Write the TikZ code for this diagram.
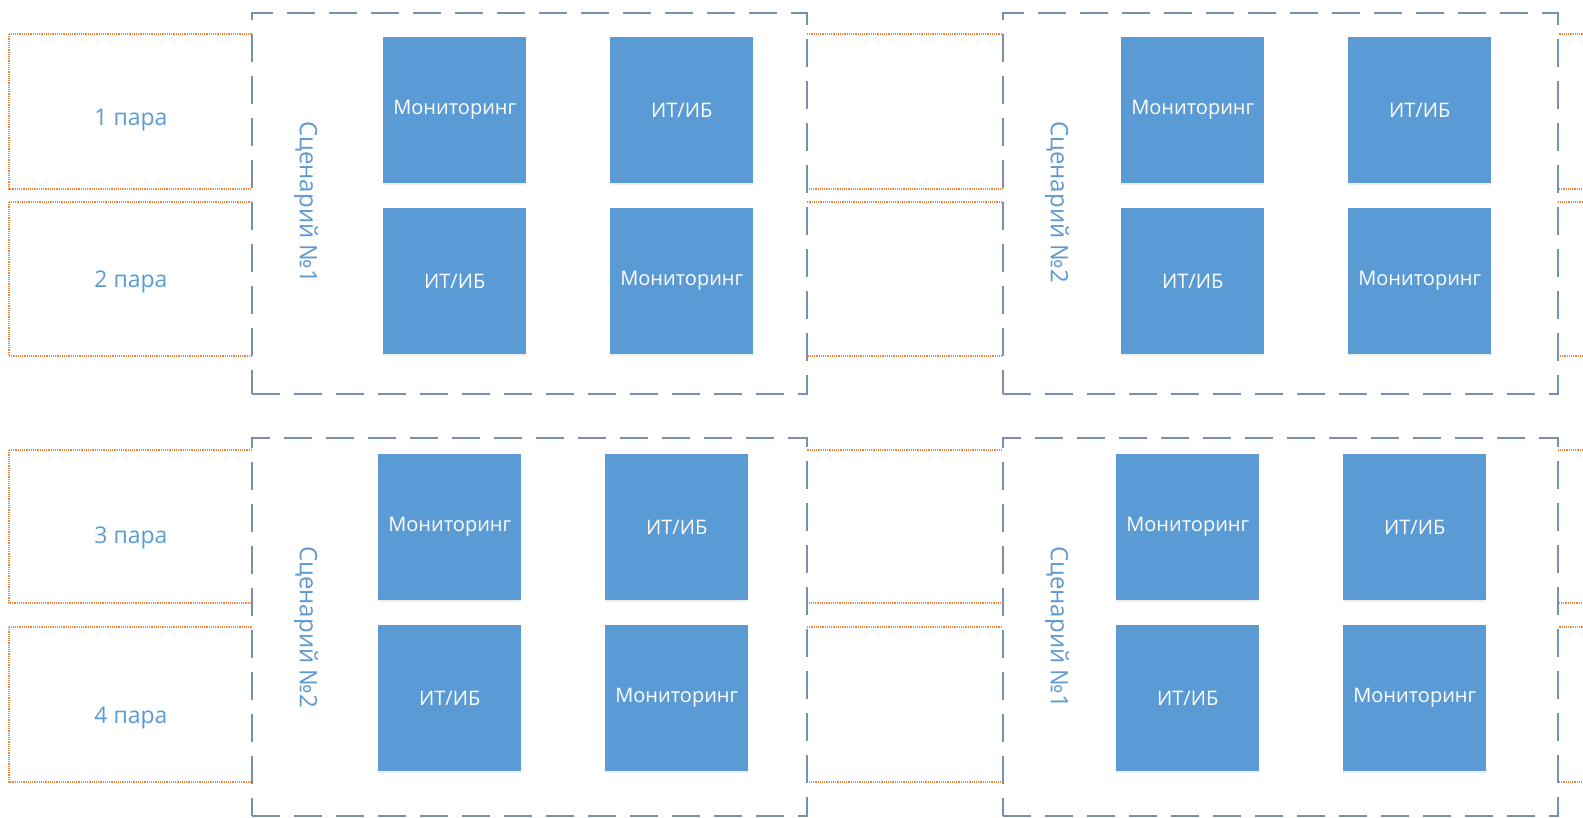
\documentclass[tikz,border=0pt]{standalone}
\usepackage{fontspec}
\setmainfont{Open Sans}
\usetikzlibrary{shadows}
\definecolor{blok}{HTML}{5B9BD5}
\definecolor{ramka}{HTML}{7890AE}
\definecolor{orang}{HTML}{EE8642}

\tikzset{
  rol/.style={fill=blok, text=white, inner sep=0pt, anchor=north west,
    minimum width=143pt, minimum height=146pt,
    font=\fontsize{20}{23}\selectfont,
    drop shadow={shadow xshift=0pt, shadow yshift=-2pt, opacity=0.12}},
  scen/.style={draw=ramka, fill=white, line width=2pt, dash pattern=on 28pt off 14pt,
    inner sep=0pt, anchor=north west, minimum width=555pt},
  scentext/.style={text=blok!85!ramka, rotate=-90, font=\fontsize{24}{27}\selectfont},
  paratext/.style={text=blok, font=\fontsize{23}{26}\selectfont},
  parabox/.style={draw=orang, line width=1.2pt, densely dotted}
}

\begin{document}
\begin{tikzpicture}[x=1pt,y=-1pt]
 \useasboundingbox (0,0) rectangle (1583,817);

 % Пары
 \draw[parabox] (9,34)  rectangle (1600,189);
 \draw[parabox] (9,202) rectangle (1600,356);
 \draw[parabox] (9,450) rectangle (1600,603);
 \draw[parabox] (9,627) rectangle (1600,782);

 \node[paratext] (para1) at (131,120) {1 пара};
 \node[paratext] (para2) at (131,282) {2 пара};
 \node[paratext] (para3) at (131,538) {3 пара};
 \node[paratext] (para4) at (131,718) {4 пара};

 % Сценарии
 \foreach \nm/\lx/\ty/\h/\bx/\by/\nr in {a/251/12/381/383/37/1, b/1002/12/381/1121/37/2,
                                         c/251/437/378/378/454/2, d/1002/437/378/1116/454/1}
 {
  \node[scen, minimum height=\h pt] (scen-\nm) at (\lx,\ty) {};
  \node[scentext] (nazv-\nm) at (\lx+55,\ty+190) {Сценарий №\nr};

  \node[rol] (\nm-11) at (\bx,\by)         {Мониторинг};
  \node[rol] (\nm-12) at (\bx+227,\by)     {ИТ/ИБ};
  \node[rol] (\nm-21) at (\bx,\by+171)     {ИТ/ИБ};
  \node[rol] (\nm-22) at (\bx+227,\by+171) {Мониторинг};
 }
\end{tikzpicture}
\end{document}
